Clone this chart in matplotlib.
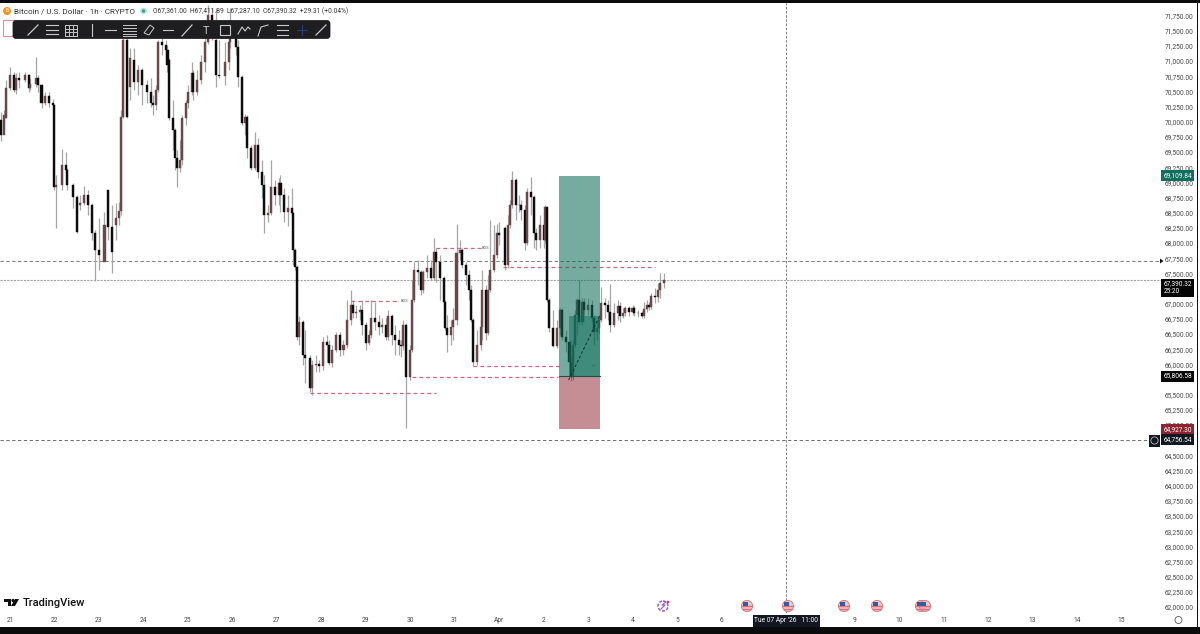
import matplotlib
matplotlib.use('Agg')
import matplotlib.pyplot as plt
from matplotlib.patches import Rectangle, FancyBboxPatch, Circle, Polygon

plt.rcParams['font.family'] = ['Roboto', 'DejaVu Sans']

# hours since 21 Mar 00:00
hours = [-5,-3,-2,0,2,3,5,8,10,11,14,15,17,19,21,23,24,25,28,30,31,34,36,38,40,42,44,46,48,51,
         53,55,57,59,60,61,63,65,67,69,71,74,76,77,79,80,82,84,85,86,88,89,90,92,93,95,96,98,99,101,
         103,105,107,109,111,113,116,118,119,122,123,125,127,128,130,132,134,136,137,139,141,143,145,146,148,150,152,153,154,155,
         156,158,159,162,163,165,167,169,171,172,174,176,178,180,182,184,185,187,189,190,192,194,195,197,199,201,203,204,206,208,
         210,211,212,214,216,217,218,220,222,223,225,227,229,230,232,234,235,236,238,239,241,243,244,246,248,249,250,252,254,255,
         257,258,259,261,263,264,267,269,270,271,273,275,276,278,279,281,283,284,286,288,289,290,291,293,295,297,298,300,302,303,
         304,305,306,307,309,310,312,314,315,317,318,319,321,323,324,326,328,329,331,332,334,336,337,339,341,342,344,345,346,348,
         350,351,353]

opens = [70030,69780,70060,70555,70770,70520,70720,70690,70770,70555,70620,70720,70605,70310,70420,70310,70275,68925,68955,69285,69205,68955,68760,68630,68660,68790,68630,68165,67885,67690,
         68875,68265,68300,68410,68530,70075,71345,70570,71015,70655,70850,70605,70490,70310,70275,70520,71315,71265,71180,71015,70060,69860,69400,69235,69370,70060,70310,70490,70800,70490,
         70690,70985,71315,71760,71345,70770,70750,70985,71315,71510,71230,70735,69975,70075,69565,69235,69615,69170,68955,68460,68495,68925,68790,68990,68790,68510,68575,68495,67885,67605,
         66450,66700,66155,66105,65610,65990,66005,65975,66370,66320,66020,66235,66485,66235,66320,66730,66980,66845,66865,66895,66650,66350,66485,66765,66700,66615,66650,66450,66800,66485,
         66400,66320,66300,66650,65790,66235,67060,67555,67520,67225,67520,67590,67425,67850,67685,67425,67030,66600,66485,66615,66730,67835,67885,67640,67475,67225,66730,66040,66320,66615,
         67225,66515,67225,67555,67805,68165,68245,67640,68295,68630,69040,68630,68630,68545,68000,68840,68760,68165,68050,68295,68050,68595,67060,66600,66305,66600,66895,66450,66370,66040,
         65790,66320,66815,67060,66700,67030,66895,66980,66765,66535,66600,66730,67010,66980,66865,66650,66845,66960,66800,66845,66930,66865,66930,66845,66845,66800,66910,66980,66945,67125,
         67110,67225,67340]

highs = [70160,70190,70685,70900,70820,70800,70820,70820,70785,70720,71065,70770,70620,70490,70490,70375,70290,69120,69550,69500,69235,68990,68790,68790,68940,68875,68660,68215,68410,68510,
         68875,68630,68660,68675,70190,71675,71675,71215,71215,70935,70885,70685,70720,70440,70605,71345,71380,71345,71265,71050,70355,69895,69535,69700,70110,70355,70605,70985,70850,70850,
         71100,71410,71920,71870,71870,71345,71315,71380,71870,71640,71345,70770,70125,70110,69615,69830,69730,69370,69120,68630,69370,69040,69070,69120,68905,68790,68905,68510,67920,67640,
         66800,66730,66565,66155,66070,66155,66070,66450,66485,66400,66320,66535,66535,66400,67060,67225,67060,66980,66980,67060,66700,66565,67060,67030,66815,66765,66765,66895,66830,66650,
         66565,66400,66730,66680,66320,67390,67690,67720,67555,67555,67805,67720,68085,67920,67805,67455,67060,66815,66730,66930,68315,68050,67920,67690,67555,67310,66765,66565,66730,67555,
         67310,67475,68380,68295,68315,68345,68280,68460,68710,69185,69070,68790,68710,68630,68905,69090,68790,68250,68460,68380,68630,68610,67095,66895,66730,66930,66930,66565,66400,66155,
         66400,66895,67095,67390,67095,67095,67095,67060,66815,66730,66815,67275,67095,67060,67325,67010,67060,67030,66930,66960,66960,66980,66960,66895,66880,67030,67060,67030,67175,67260,
         67340,67505,67505]

lows = [69680,69945,70060,70520,70490,70455,70555,70655,70490,70520,70570,70490,70225,70275,70240,70240,68875,68250,68875,69120,68875,68575,68165,68545,68630,68460,68050,67375,67555,68050,
        68050,67505,68050,68295,68460,70060,70060,70355,70520,70440,70275,70310,70240,70110,70190,70490,71100,71015,70820,70030,69535,69205,68925,69170,69285,69945,70225,70440,70355,70440,
        70620,70820,71280,71345,70570,70720,70605,70850,71215,71100,70570,69945,69780,69400,69205,69205,69070,68740,68165,68345,68460,68630,68630,68510,68345,68280,68380,67640,67555,66400,
        66320,65990,65695,65545,65495,65875,65875,65905,66040,65990,65955,66205,66140,66155,66270,66650,66765,66765,66730,66485,66235,66320,66435,66565,66485,66515,66400,66400,66320,66155,
        66155,66120,66235,64950,65745,66205,67030,67310,67145,67175,67425,67390,67390,67360,67060,66980,66565,66205,66320,66400,66650,67720,67590,67310,67060,66700,65975,65990,66235,66400,
        66400,66485,67195,67525,67755,67970,67555,67590,68250,68575,68380,68510,68380,67885,67970,68460,67920,67885,67920,67920,68000,67030,66535,66285,66270,66485,66400,66205,65990,65725,
        65745,66285,66485,66650,66650,66815,66815,66700,66320,66400,66515,66700,66765,66730,66535,66615,66730,66700,66765,66800,66800,66815,66800,66780,66765,66765,66865,66895,66915,67010,
        67030,67095,67260]

closes = [69780,70110,70555,70770,70520,70720,70690,70770,70555,70620,70720,70605,70310,70420,70310,70275,68925,68955,69285,69205,68955,68760,68180,68660,68790,68630,68165,67885,67805,68295,
          68265,67850,68410,68530,70075,71345,70075,71050,70655,70850,70605,70490,70310,70275,70520,71315,71265,71180,70935,70060,69860,69400,69235,69370,70060,70310,70490,70800,70490,70690,
          70985,71315,71760,71510,70770,70750,70985,71315,71595,71230,70735,69975,70075,69565,69235,69615,69170,68955,68460,68495,68925,68790,68990,68790,68510,68575,68495,67885,67605,66450,
          66700,66155,66105,65610,65990,66005,65975,66370,66320,66020,66235,66485,66235,66320,66730,66980,66845,66865,66895,66650,66350,66485,66765,66700,66615,66650,66450,66800,66485,66400,
          66320,66300,66650,65790,66235,67060,67555,67520,67225,67520,67590,67425,67850,67685,67425,67030,66600,66485,66615,66730,67835,67885,67640,67475,67225,66730,66040,66320,66615,67225,
          66515,67225,67555,67805,68165,68130,67640,68295,68630,69040,68630,68630,68545,68000,68840,68760,68165,68050,68295,68050,68595,67060,66600,66305,66600,66895,66450,66370,66040,65790,
          66320,66815,67060,66700,67030,66895,66980,66765,66535,66600,66730,67010,66980,66865,66650,66845,66960,66800,66845,66930,66865,66930,66845,66845,66800,66910,66980,66945,67125,67110,
          67225,67340,67390]

n = min(len(hours), len(opens), len(highs), len(lows), len(closes))

# 7 and 8 sit under the crosshair tooltip in the reference
day_labels = ['21','22','23','24','25','26','27','28','29','30','31','Apr','2','3','4','5','6','','','9','10','11','12','13','14','15']
# labels hidden behind the price tags are left out
price_ticks = [p for p in range(62000, 71751, 250) if p not in (67250, 65750, 64750)]

# drawn levels (price, from hour, to hour)
bos_price = [65530, 65800, 65975, 67040, 67915, 67605]
bos_start = [162, 217, 250, 184, 230, 266]
bos_end = [230, 296, 297, 210, 254, 348]

tp_price = 69109.84
entry_price = 65806.58
stop_price = 64927.30
pos_start, pos_end = 296.2, 318.3
trade_start, trade_top = 301.5, 66800
last_price = 67390.32
upper_level = 67700
lower_level = 64756.54
cross_hour = 419

fig = plt.figure(figsize=(12, 6.34), dpi=100, facecolor='white')
ax = fig.add_axes([0, 21/634, 1162/1200, 610/634])
ax.set_xlim(-5.4, 621.8)
ax.set_ylim(61903, 71956)
for s in ax.spines.values():
    s.set_visible(False)

# position box
ax.add_patch(Rectangle((pos_start, entry_price), pos_end-pos_start, tp_price-entry_price, fc='#0b6b57', alpha=0.56, lw=0, zorder=4))
ax.add_patch(Rectangle((pos_start, stop_price), pos_end-pos_start, entry_price-stop_price, fc='#8a1f2b', alpha=0.5, lw=0, zorder=4))
ax.add_patch(Rectangle((trade_start, entry_price), pos_end-trade_start, trade_top-entry_price, fc='#0b6b57', alpha=0.5, lw=0, zorder=4))
ax.plot([pos_start, pos_end], [entry_price, entry_price], color='#1d4f46', lw=0.8, zorder=5)
ax.plot([trade_start, pos_end], [65740, trade_top], color='#16332e', lw=0.7, ls=(0, (3, 2)), zorder=5)

# candles
for i in range(n):
    ax.vlines(hours[i], lows[i], highs[i], color='#a6a6a6', lw=0.9, zorder=2)
    up = closes[i] >= opens[i]
    col = '#6a474d' if up else '#0c0c0c'
    ax.bar(hours[i], abs(closes[i]-opens[i]), bottom=min(opens[i], closes[i]), width=1.1, color=col, edgecolor=col, lw=0.3, zorder=3)

# levels
ax.axhline(upper_level, color='#666666', lw=0.6, ls=(0, (4, 3)), zorder=1)
ax.axhline(lower_level, color='#555555', lw=0.6, ls=(0, (4, 3)), zorder=1)
ax.axhline(last_price, color='#a5a5a5', lw=0.8, ls=(0, (2, 1)), zorder=1)
ax.axvline(cross_hour, color='#666666', lw=0.6, ls=(0, (3, 2)), zorder=1)
for p, a, b in zip(bos_price, bos_start, bos_end):
    ax.plot([a, b], [p, p], color='#d8607f', lw=0.9, ls=(0, (3, 2.5)), zorder=2)
ax.text(211, 67040, 'BOS', fontsize=2.8, color='#555555', va='center')
ax.text(254.5, 67915, 'BOS', fontsize=2.8, color='#555555', va='center')
ax.text(314, 65975, '50', fontsize=2.8, color='#2d6f62', va='center', zorder=6)

# axes text
ax.set_xticks([24*i for i in range(len(day_labels))])
ax.set_xticklabels(day_labels, fontsize=4.8, color='#444444')
ax.tick_params(axis='x', length=0, pad=3)
ax.yaxis.tick_right()
ax.set_yticks(price_ticks)
ax.set_yticklabels([f'{p:,.2f}' for p in price_ticks], fontsize=4.7, color='#444444')
ax.tick_params(axis='y', length=0, pad=2)

# price tags
ytr = ax.get_yaxis_transform()
tags = [(tp_price, '69,109.84', '#0e6f5c'), (entry_price, '65,806.58', '#050505'),
        (stop_price, '64,927.30', '#8f2430'), (lower_level, '64,756.54', '#131722')]
for p, lab, c in tags:
    ax.text(1.0012, p, lab, transform=ytr, fontsize=4.7, color='white', va='center', ha='left', zorder=8, clip_on=False,
            bbox=dict(boxstyle='square,pad=0.3', fc=c, ec='none'))
ax.text(1.0012, last_price - 130, '67,390.32\n25:20', transform=ytr, fontsize=4.7, color='white', va='center', ha='left', zorder=8,
        linespacing=1.15, clip_on=False, bbox=dict(boxstyle='square,pad=0.3', fc='#050505', ec='none'))

# pixel overlay for the TradingView furniture
ov = fig.add_axes([0, 0, 1, 1], facecolor='none')
ov.set_xlim(0, 1200)
ov.set_ylim(634, 0)
ov.axis('off')

ov.add_patch(Rectangle((0, 0), 1200, 3, fc='#0b0b0b', lw=0))
ov.add_patch(Rectangle((0, 627), 1200, 7, fc='#0b0b0b', lw=0))
ov.add_patch(Rectangle((1196.5, 0), 1.2, 634, fc='#111111', lw=0))

# header
ov.add_patch(Circle((7, 11), 4, fc='#f7931a', lw=0))
ov.text(7, 11, 'B', fontsize=3.5, color='white', ha='center', va='center')
ov.text(14, 11.5, 'Bitcoin / U.S. Dollar · 1h · CRYPTO', fontsize=5.9, color='#333333', va='center')
ov.add_patch(Circle((143.5, 11), 3.3, fc='#b7e6dc', lw=0))
ov.add_patch(Circle((143.5, 11), 1.7, fc='#2aa58f', lw=0))
ov.text(153, 11.5, 'O67,361.00  H67,411.89  L67,287.10  C67,390.32  +29.31 (+0.04%)', fontsize=4.8, color='#333333', va='center')

# toolbar
ov.add_patch(Rectangle((3, 20), 30, 16, fc='white', ec='#e58a9b', lw=0.8, zorder=5))
ov.plot([63, 100], [20.5, 20.5], color='#2962ff', lw=0.8, zorder=5)
ov.add_patch(FancyBboxPatch((14, 21.5), 315, 16, boxstyle='round,pad=0,rounding_size=2', fc='#1e1e20', ec='#1e1e20', lw=2, zorder=6))
ic = '#c8c8c8'
ov.plot([28, 38], [35, 25], color=ic, lw=0.9, zorder=7)
for y in (25, 29.5, 34):
    ov.plot([46, 58], [y, y], color=ic, lw=0.8, zorder=7)
ov.plot([163, 173], [30, 30], color=ic, lw=0.8, zorder=7)
for k in range(4):
    ov.plot([65+4*k, 65+4*k], [25, 36], color=ic, lw=0.7, zorder=7)
    ov.plot([65, 77], [25+3.6*k, 25+3.6*k], color=ic, lw=0.7, zorder=7)
ov.plot([92, 92], [24, 36], color=ic, lw=0.8, zorder=7)
ov.plot([105, 116], [30, 30], color=ic, lw=0.8, zorder=7)
for y in (25, 28, 31, 34, 36):
    ov.plot([123, 136], [y, y], color=ic, lw=0.7, zorder=7)
ov.add_patch(Polygon([[144, 33], [150, 25], [154, 28], [149, 35]], fc='none', ec=ic, lw=0.7, zorder=7))
ov.plot([182, 192], [36, 25], color=ic, lw=0.9, zorder=7)
ov.text(206, 30.5, 'T', fontsize=8, color=ic, ha='center', va='center', zorder=7)
ov.add_patch(Rectangle((220, 25), 10, 10, fc='none', ec=ic, lw=0.8, zorder=7))
ov.plot([238, 242, 245, 248, 250], [34, 27, 31, 27, 29], color=ic, lw=0.8, zorder=7)
ov.plot([258, 261, 268], [36, 27, 25], color=ic, lw=0.8, zorder=7)
for y in (25, 30, 35):
    ov.plot([277, 288], [y, y], color=ic, lw=0.8, zorder=7)
ov.plot([297, 307], [30, 30], color='#2c3a6b', lw=0.9, zorder=7)
ov.plot([302, 302], [25, 35], color='#2c3a6b', lw=0.9, zorder=7)
ov.plot([316, 326], [35, 25], color=ic, lw=0.9, zorder=7)

# arrow on the upper level and alert icon
ov.add_patch(Polygon([[1160, 258.5], [1163.5, 261], [1160, 263.5]], fc='#111111', lw=0))
ov.add_patch(Rectangle((1149, 434.5), 11, 12, fc='#131722', lw=0, zorder=7))
ov.add_patch(Circle((1154.5, 440.5), 3.6, fc='none', ec='#d8d8d8', lw=0.5, zorder=8))

# logo
ov.add_patch(Polygon([[4, 599], [11, 599], [11, 606], [8, 606], [8, 602], [4, 602]], fc='#111111', lw=0))
ov.add_patch(Circle((13, 600.5), 1.6, fc='#111111', lw=0))
ov.add_patch(Polygon([[15, 599], [19, 599], [15, 606], [11, 606]], fc='#111111', lw=0))
ov.text(22.5, 602.5, 'TradingView', fontsize=8, color='#111111', va='center', fontweight='medium')

# event icons
for x in [747, 788, 844, 877, 921, 925]:
    ov.add_patch(Circle((x, 606), 5.6, fc='#f3c6c9', ec='#d9707c', lw=0.6, zorder=5))
    ov.plot([x-5, x+5], [606, 606], color='#d9707c', lw=1, zorder=6)
    ov.plot([x-4, x+4], [609, 609], color='#d9707c', lw=1, zorder=6)
    ov.add_patch(Rectangle((x-4, 602), 4.5, 3.5, fc='#2f5f9e', lw=0, zorder=7))
ov.add_patch(Circle((663, 606), 5, fc='none', ec='#9b59d0', lw=1.1, ls=(0, (2, 1))))
ov.plot([661, 665, 662, 666], [609, 605, 605, 602], color='#9b59d0', lw=0.8)
ov.add_patch(Circle((668, 602), 1.3, fc='#d6336c', lw=0))

# crosshair tooltip and bottom-right icon
ov.add_patch(Rectangle((753, 615), 67, 12, fc='#131722', lw=0, zorder=8))
ov.text(786.5, 621, "Tue 07 Apr '26   11:00", fontsize=4.8, color='white', ha='center', va='center', zorder=9)
ov.add_patch(Circle((1178.5, 620), 3.5, fc='none', ec='#555555', lw=0.6))

fig.savefig('out.png', dpi=100)
